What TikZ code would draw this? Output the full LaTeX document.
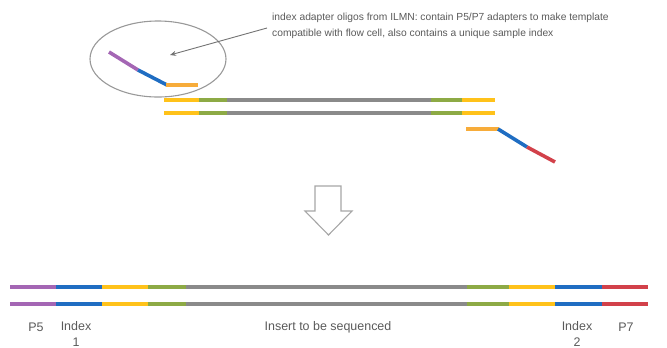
\documentclass[tikz,border=0pt]{standalone}
\usepackage{fontspec}
\setmainfont{Liberation Sans}
\usetikzlibrary{arrows.meta}
\definecolor{cPurple}{HTML}{A466B4}
\definecolor{cBlue}{HTML}{1F6DC2}
\definecolor{cYellow}{HTML}{FFC21A}
\definecolor{cOrange}{HTML}{F7AC3A}
\definecolor{cGreen}{HTML}{8DAA45}
\definecolor{cGray}{HTML}{8A8A8A}
\definecolor{cRed}{HTML}{D2414A}
\definecolor{cText}{HTML}{5A5A5A}
\tikzset{
  strand/.style={line width=3.6bp, line cap=butt},
  label/.style={font=\fontsize{12.5}{16.5}\selectfont, text=cText, inner sep=0pt},
}
\begin{document}
\begin{tikzpicture}[x=1bp, y=-1bp]
\useasboundingbox (0,0) rectangle (667,347);

% adapter oligo inside the ellipse
\draw[gray!80, line width=1.1bp] (158,59) ellipse [x radius=68, y radius=38];
\draw[strand, cPurple] (109,52) -- (138,70);
\draw[strand, cBlue] (138,70) -- (167,85);
\draw[strand, cOrange] (166,85) -- (198,85);

% annotation
\node[label, font=\fontsize{10.3}{15.5}\selectfont, anchor=west, align=left] (note) at (272,26)
  {index adapter oligos from ILMN: contain P5/P7 adapters to make template\\
   compatible with flow cell, also contains a unique sample index};
\coordinate (tip) at (170,55);
\draw[gray!90!black, line width=0.9bp, -{Stealth[length=6bp,width=5bp]}] (267,28) -- (tip);

% insert with ligated ends (two strands)
\foreach \y in {100,113} {
  \draw[strand, cYellow] (164,\y) -- (199,\y);
  \draw[strand, cGreen]  (199,\y) -- (227,\y);
  \draw[strand, cGray]   (227,\y) -- (431,\y);
  \draw[strand, cGreen]  (431,\y) -- (462,\y);
  \draw[strand, cYellow] (462,\y) -- (495,\y);
}

% second adapter oligo
\draw[strand, cOrange] (466,129) -- (499,129);
\draw[strand, cBlue] (498,129) -- (527,147);
\draw[strand, cRed] (527,147) -- (555,162);

% block arrow
\draw[gray!70, line width=1.1bp, line join=miter]
  (315,186) -- (315,211) -- (305,211) -- (328.5,235) -- (352,211) -- (341,211) -- (341,186) -- cycle;

% final library fragment (two strands)
\foreach \y in {287,304} {
  \draw[strand, cPurple] (10,\y) -- (56,\y);
  \draw[strand, cBlue]   (56,\y) -- (102,\y);
  \draw[strand, cYellow] (102,\y) -- (148,\y);
  \draw[strand, cGreen]  (148,\y) -- (186,\y);
  \draw[strand, cGray]   (186,\y) -- (467,\y);
  \draw[strand, cGreen]  (467,\y) -- (509,\y);
  \draw[strand, cYellow] (509,\y) -- (555,\y);
  \draw[strand, cBlue]   (555,\y) -- (602,\y);
  \draw[strand, cRed]    (602,\y) -- (648,\y);
}

% segment labels
\node[label] (p5) at (36,327) {P5};
\node[label, align=center, anchor=north] (idx1) at (76,321) {Index\\1};
\node[label] (insert) at (328,327) {Insert to be sequenced};
\node[label, align=center, anchor=north] (idx2) at (577,321) {Index\\2};
\node[label] (p7) at (626,327) {P7};
\end{tikzpicture}
\end{document}
